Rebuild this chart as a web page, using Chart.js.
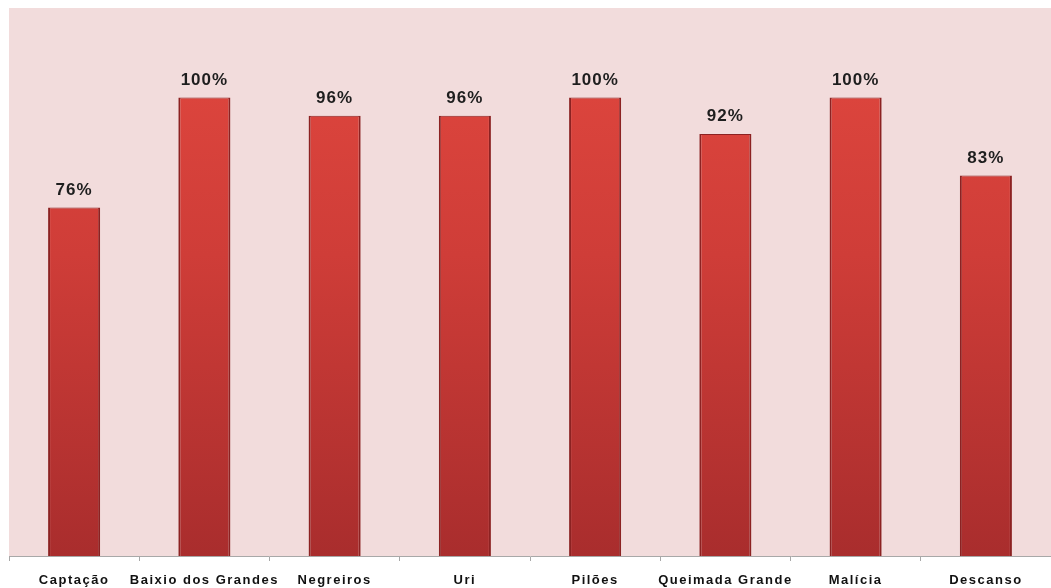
<!DOCTYPE html>
<html lang="pt">
<head>
<meta charset="UTF-8">
<title>Percentual por localidade</title>
<script src="https://cdn.jsdelivr.net/npm/chart.js@4/dist/chart.umd.min.js"></script>
<style>
  html, body { margin: 0; padding: 0; background: #ffffff; }
  #wrap { width: 1051px; height: 588px; position: relative; }
</style>
</head>
<body>
<div id="wrap"><canvas id="chart"></canvas></div>
<script>
const locais = ['Captação', 'Baixio dos Grandes', 'Negreiros', 'Uri', 'Pilões', 'Queimada Grande', 'Malícia', 'Descanso'];
const percentuais = [76, 100, 96, 96, 100, 92, 100, 83];

// pink plot background + letter spacing for axis labels
const fundo = {
  id: 'fundo',
  beforeDraw(chart) {
    const { ctx, chartArea: a } = chart;
    ctx.save();
    ctx.fillStyle = '#f2dcdc';
    ctx.fillRect(a.left, a.top, a.right - a.left, a.bottom - a.top);
    ctx.restore();
    ctx.letterSpacing = '1.5px';
  },
  beforeDatasetsDraw(chart) {
    chart.ctx.letterSpacing = '0px';
  }
};

// value labels above the bars
const rotulos = {
  id: 'rotulos',
  afterDatasetsDraw(chart) {
    const { ctx } = chart;
    const meta = chart.getDatasetMeta(0);
    ctx.save();
    ctx.letterSpacing = '1px';
    ctx.font = 'bold 17px "Liberation Sans", Arial, sans-serif';
    ctx.fillStyle = '#1e1e1e';
    ctx.textAlign = 'center';
    ctx.textBaseline = 'bottom';
    meta.data.forEach((bar, i) => {
      ctx.fillText(percentuais[i] + '%', bar.x, bar.y - 9);
    });
    ctx.restore();
  }
};

function corBarra(context) {
  const chart = context.chart;
  if (!chart.chartArea) return '#c83a36';
  const a = chart.chartArea;
  const g = chart.ctx.createLinearGradient(0, a.top, 0, a.bottom);
  g.addColorStop(0, '#e2483f');
  g.addColorStop(0.45, '#cf3d38');
  g.addColorStop(1, '#a92d2d');
  return g;
}

new Chart(document.getElementById('chart'), {
  type: 'bar',
  data: {
    labels: locais,
    datasets: [{
      data: percentuais,
      backgroundColor: corBarra,
      borderColor: '#8c2222',
      borderWidth: { left: 2, right: 2, top: 1, bottom: 0 },
      borderSkipped: false,
      barPercentage: 0.4,
      categoryPercentage: 1.0
    }]
  },
  options: {
    responsive: true,
    maintainAspectRatio: false,
    animation: false,
    layout: { padding: { left: 9, top: 8, right: 0, bottom: 0 } },
    plugins: { legend: { display: false }, tooltip: { enabled: false } },
    scales: {
      x: {
        afterFit(scale) { scale.height = 32; },
        grid: {
          display: true,
          offset: true,
          drawOnChartArea: false,
          drawTicks: true,
          tickLength: 5,
          color: '#a8a8a8'
        },
        border: { display: true, color: '#a8a8a8', width: 1 },
        ticks: {
          autoSkip: false,
          maxRotation: 0,
          padding: 12,
          color: '#111111',
          font: { family: '"Liberation Sans", Arial, sans-serif', size: 13, weight: 'bold' }
        }
      },
      y: {
        display: false,
        min: 0,
        max: 119.5
      }
    }
  },
  plugins: [fundo, rotulos]
});
</script>
</body>
</html>
